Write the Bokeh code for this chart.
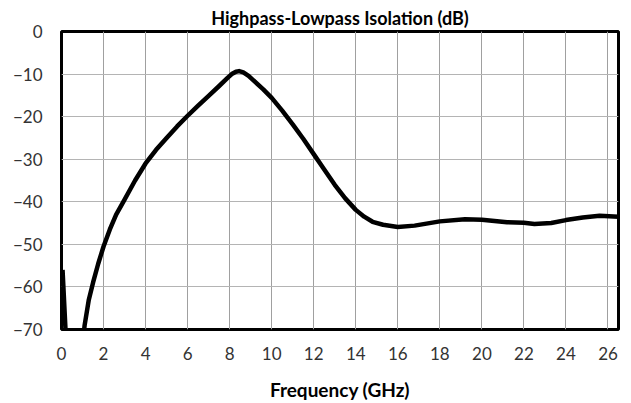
from bokeh.plotting import figure
from bokeh.models import FixedTicker, Range1d
from bokeh.embed import file_html
from bokeh.resources import INLINE

# Frequency (GHz) and isolation (dB)
freq = [0.05, 0.25, 0.6, 0.95, 1.1, 1.3, 1.5, 1.75, 2.0, 2.3, 2.6, 3.0, 3.5, 4.0, 4.5, 5.0,
        5.5, 6.0, 6.5, 7.0, 7.5, 7.9, 8.1, 8.3, 8.45, 8.65, 8.9, 9.2, 9.6, 10.0, 10.5, 11.0, 11.5, 12.0,
        12.5, 13.0, 13.5, 14.0, 14.4, 14.8, 15.3, 16.0,
        16.8, 18.0, 19.2, 20.0, 21.2, 22.0, 22.5, 23.3, 24.0, 24.8, 25.6, 26.5]
isolation = [-56, -76, -80, -76, -69, -63, -59, -54.5, -50.5, -46.5, -43, -39.5, -35, -31, -27.8, -25,
             -22.3, -19.8, -17.4, -15.1, -12.8, -10.9, -10.0, -9.45, -9.3, -9.6, -10.4, -11.8, -13.6, -15.6, -18.6, -21.8, -25.2, -28.8,
             -32.4, -36.0, -39.2, -41.9, -43.5, -44.7, -45.4, -45.9,
             -45.6, -44.6, -44.1, -44.2, -44.8, -44.9, -45.2, -45.0, -44.3, -43.7, -43.3, -43.5]

x_ticks = list(range(0, 27, 2))
y_ticks = [0, -10, -20, -30, -40, -50, -60, -70]

FONT = "Lato"

p = figure(width=624, height=403, output_backend="svg", toolbar_location=None,
           x_range=Range1d(0, 26.5), y_range=Range1d(-70, 0),
           title="Highpass-Lowpass Isolation (dB)",
           min_border_left=61, min_border_right=6, min_border_top=31, min_border_bottom=74)

p.line(freq, isolation, line_color="black", line_width=4.5, line_join="round")

p.title.align = "center"
p.title.text_font = FONT
p.title.text_font_size = "18px"
p.title.text_font_style = "bold"
p.title.text_color = "black"
p.title.standoff = 5

p.outline_line_color = "black"
p.outline_line_width = 3
p.outline_line_alpha = 1

for ax in (p.xaxis, p.yaxis):
    ax.axis_line_color = None
    ax.major_tick_line_color = None
    ax.minor_tick_line_color = None
    ax.major_tick_out = 0
    ax.major_tick_in = 0
    ax.minor_tick_out = 0
    ax.minor_tick_in = 0
    ax.major_label_text_font = FONT
    ax.major_label_text_font_size = "17px"
    ax.major_label_text_color = "#333333"

p.xaxis.ticker = FixedTicker(ticks=x_ticks)
p.yaxis.ticker = FixedTicker(ticks=y_ticks)
p.xaxis.major_label_standoff = 17
p.yaxis.major_label_standoff = 19

p.xaxis.axis_label = "Frequency (GHz)"
p.xaxis.axis_label_text_font = FONT
p.xaxis.axis_label_text_font_size = "19px"
p.xaxis.axis_label_text_font_style = "bold"
p.xaxis.axis_label_text_color = "black"
p.xaxis.axis_label_standoff = 15

p.xgrid.grid_line_color = "#a0a0a0"
p.ygrid.grid_line_color = "#b4b4b4"
p.xgrid.grid_line_width = 1
p.ygrid.grid_line_width = 1

open("out.html", "w").write(file_html(p, INLINE))
